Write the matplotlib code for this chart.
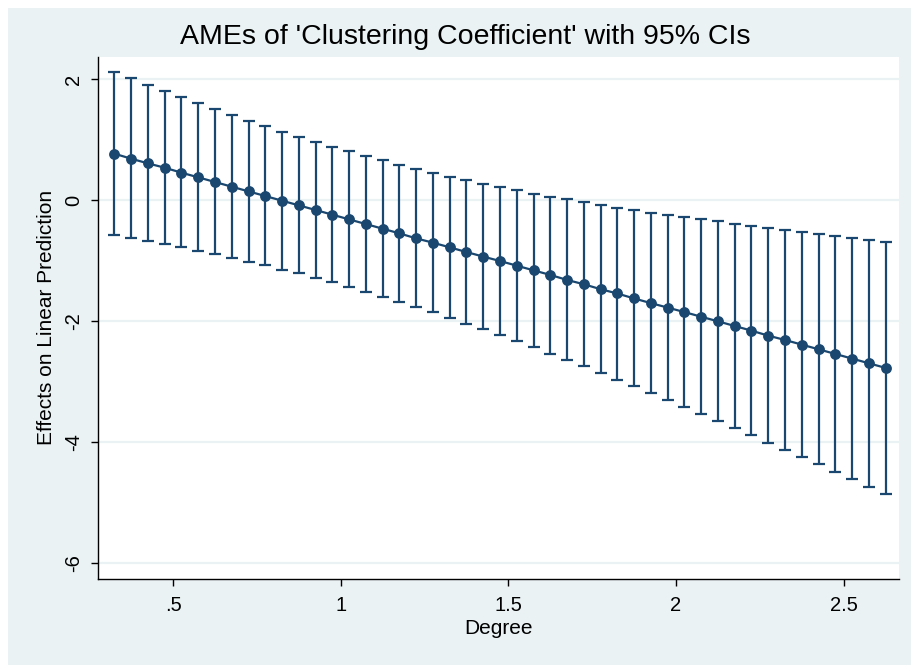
import matplotlib.pyplot as plt
from matplotlib.patches import Rectangle

degree = [0.325, 0.375, 0.425, 0.475, 0.525, 0.575, 0.625, 0.675, 0.725, 0.775,
          0.825, 0.875, 0.925, 0.975, 1.025, 1.075, 1.125, 1.175, 1.225, 1.275,
          1.325, 1.375, 1.425, 1.475, 1.525, 1.575, 1.625, 1.675, 1.725, 1.775,
          1.825, 1.875, 1.925, 1.975, 2.025, 2.075, 2.125, 2.175, 2.225, 2.275,
          2.325, 2.375, 2.425, 2.475, 2.525, 2.575, 2.625]
ame = [0.766, 0.683, 0.606, 0.534, 0.452, 0.375, 0.298, 0.220, 0.143, 0.066,
       -0.011, -0.088, -0.165, -0.242, -0.320, -0.397, -0.474, -0.551, -0.634, -0.705,
       -0.782, -0.860, -0.935, -1.008, -1.085, -1.162, -1.238, -1.321, -1.392, -1.474,
       -1.545, -1.627, -1.704, -1.778, -1.852, -1.929, -2.005, -2.082, -2.159, -2.242,
       -2.313, -2.390, -2.467, -2.544, -2.621, -2.698, -2.775]
ci_lo = [-0.579, -0.634, -0.683, -0.733, -0.782, -0.843, -0.898, -0.959, -1.019, -1.074,
         -1.149, -1.212, -1.289, -1.361, -1.438, -1.515, -1.598, -1.680, -1.769, -1.857,
         -1.950, -2.044, -2.135, -2.230, -2.329, -2.433, -2.537, -2.641, -2.751, -2.860,
         -2.970, -3.079, -3.195, -3.302, -3.418, -3.538, -3.654, -3.769, -3.890, -4.011,
         -4.132, -4.247, -4.368, -4.489, -4.615, -4.736, -4.857]
ci_hi = [2.116, 2.011, 1.906, 1.802, 1.702, 1.603, 1.504, 1.405, 1.311, 1.223,
         1.132, 1.044, 0.964, 0.876, 0.804, 0.727, 0.656, 0.579, 0.512, 0.446,
         0.386, 0.331, 0.264, 0.208, 0.159, 0.104, 0.055, 0.011, -0.038, -0.082,
         -0.126, -0.164, -0.214, -0.247, -0.280, -0.319, -0.352, -0.390, -0.423, -0.462,
         -0.495, -0.527, -0.566, -0.599, -0.632, -0.659, -0.692]

xticks = [0.5, 1, 1.5, 2, 2.5]
xticklabels = ['.5', '1', '1.5', '2', '2.5']
yticks = [2, 0, -2, -4, -6]
yticklabels = ['2', '0', '-2', '-4', '-6']

navy = '#1A476F'
bluish = '#EAF2F3'

plt.rcParams['font.family'] = ['Liberation Sans', 'DejaVu Sans']

fig = plt.figure(figsize=(9.12, 6.65), dpi=100, facecolor='white')
# stata graph region
fig.patches.append(Rectangle((8 / 912, 0), 1, 1 - 8 / 665, transform=fig.transFigure,
                             facecolor=bluish, edgecolor='none', zorder=-1))

ax = fig.add_axes([98.3 / 912, 1 - 579 / 665, (899 - 98.3) / 912, (579 - 56.7) / 665])
ax.set_facecolor('white')

lower_err = [a - l for a, l in zip(ame, ci_lo)]
upper_err = [h - a for a, h in zip(ame, ci_hi)]
ax.errorbar(degree, ame, yerr=[lower_err, upper_err], fmt='none', ecolor=navy,
            elinewidth=1.6, capsize=4.5, capthick=1.6, zorder=2)
ax.plot(degree, ame, color=navy, linewidth=1.6, marker='o', markersize=7.8,
        markeredgewidth=0, zorder=3)

ax.set_xlim(0.277, 2.665)
ax.set_ylim(-6.264, 2.369)
ax.set_xticks(xticks)
ax.set_xticklabels(xticklabels)
ax.set_yticks(yticks)
ax.set_yticklabels(yticklabels, rotation=90, va='center')
ax.yaxis.grid(True, color=bluish, linewidth=1.6)
ax.set_axisbelow(True)

for side in ['top', 'right']:
    ax.spines[side].set_visible(False)
for side in ['left', 'bottom']:
    ax.spines[side].set_linewidth(1.0)
ax.tick_params(direction='out', length=5, width=1.0, labelsize=14.5)
ax.tick_params(axis='x', pad=7)
ax.tick_params(axis='y', pad=6)

ax.set_xlabel('Degree', fontsize=15, labelpad=3)
ax.set_ylabel('Effects on Linear Prediction', fontsize=15, labelpad=6)
fig.text(465 / 912, 1 - 37 / 665, "AMEs of 'Clustering Coefficient' with 95% CIs",
         ha='center', va='center', fontsize=20.5)

fig.savefig('out.png', dpi=100, facecolor=fig.get_facecolor())
